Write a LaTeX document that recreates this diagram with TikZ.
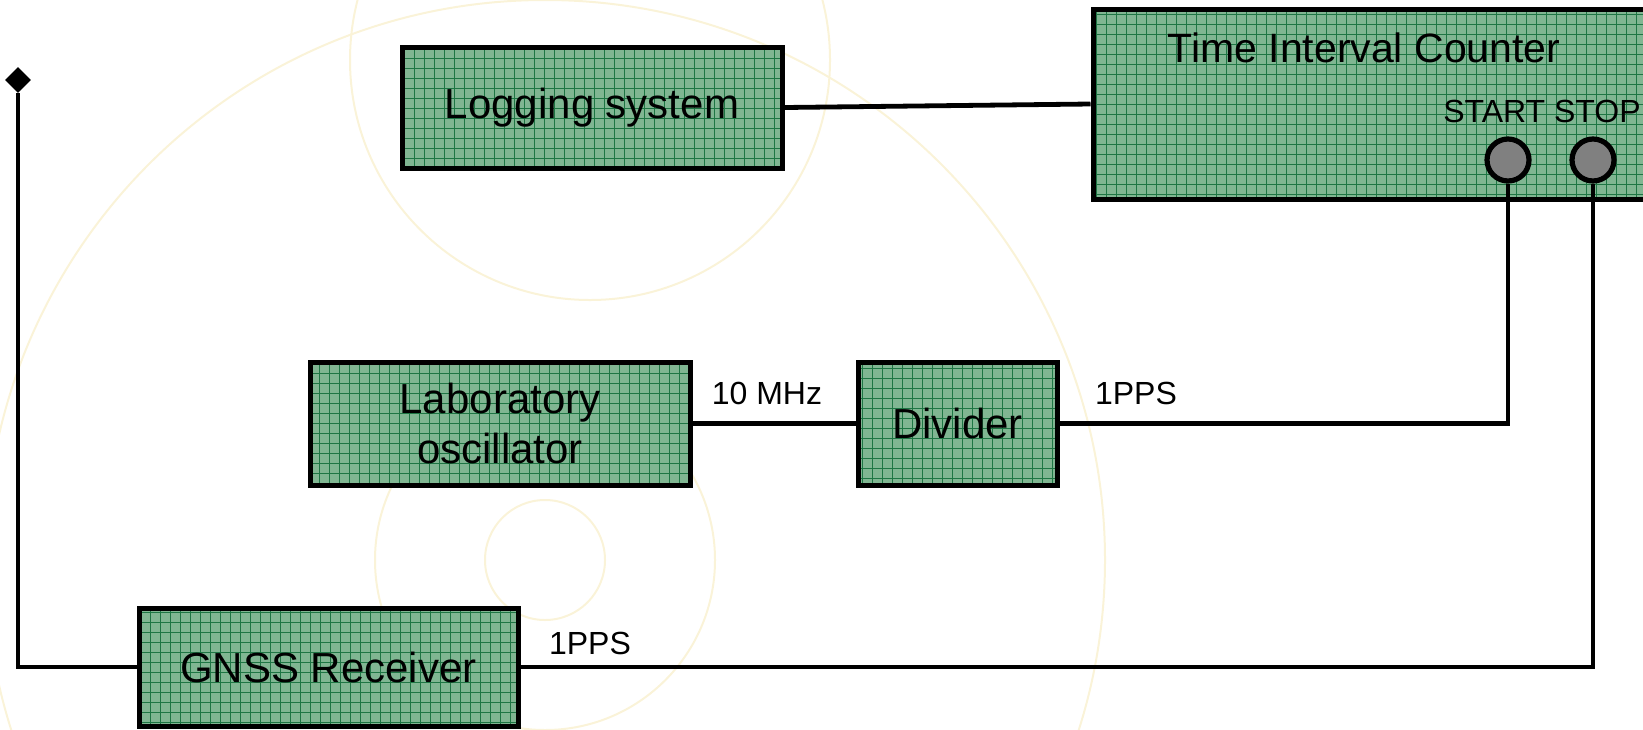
\documentclass[tikz,border=0pt]{standalone}
\usepackage{fontspec}
\setmainfont{Liberation Sans}
\usetikzlibrary{shapes.geometric}

\definecolor{boxgreen}{RGB}{128,182,146}
\definecolor{gridgreen}{RGB}{30,118,68}
\definecolor{chartline}{RGB}{250,243,216}

\begin{document}
\begin{tikzpicture}[
  x=0.5pt, y=-0.5pt,
  font=\fontsize{21}{25}\selectfont,
  every node/.style={align=center},
  unit/.style={draw, line width=2.5pt, fill=boxgreen, inner sep=0pt,
    path picture={\draw[gridgreen, line width=0.45pt]
      (path picture bounding box.south west) grid[step=5pt]
      (path picture bounding box.north east);}},
  port/.style={circle, draw, line width=2.6pt, fill=gray, minimum size=21pt, inner sep=0pt},
  tip/.style={diamond, fill=black, minimum size=13pt, inner sep=0pt},
  signal/.style={font=\fontsize{16}{19}\selectfont},
  wire/.style={line width=2.4pt}]

  % Fix the page to the size of the picture
  \useasboundingbox (0,0) rectangle (1643,729);
  \clip (0,0) rectangle (1643,729);

  % Faint chart in the background
  \begin{scope}[chartline, line width=1pt]
    \draw (545,560) circle[radius=60];
    \draw (545,560) circle[radius=170];
    \draw (545,560) circle[radius=560];
    \draw (590,60) circle[radius=240];
  \end{scope}

  % Position the units
  \node[unit, minimum width=190pt, minimum height=60.5pt] (logging) at (592,107.5) {Logging system};
  \node[unit, minimum width=293.5pt, minimum height=95pt] (tic) at (1386.5,104) {};
  \node[font=\fontsize{20.5}{24}\selectfont] (ticlabel) at (1364,48) {Time Interval Counter};
  \node[signal] (portlabel) at (1542,111) {START STOP};
  \node[port] (start) at (1508,160) {};
  \node[port] (stop) at (1593,160) {};

  \node[unit, minimum width=190pt, minimum height=61.5pt] (lab) at (500,423.5) {Laboratory\\oscillator};
  \node[unit, minimum width=99.5pt, minimum height=61.5pt] (divider) at (957.5,423.5) {Divider};
  \node[unit, minimum width=189.5pt, minimum height=59pt] (gnss) at (328.5,667) {GNSS Receiver};
  \node[tip] (ant) at (18,80) {};

  % Signal labels
  \node[signal] (tenmhz) at (767,393) {10 MHz};
  \node[signal] (ppsdiv) at (1136,393) {1PPS};
  \node[signal] (ppsgnss) at (590,643) {1PPS};

  % Draw the wires between the units
  \draw[wire] (logging.east) -- (tic.west);
  \draw[wire] (lab) -- (divider);
  \draw[wire] (divider.east) -| (start.south);
  \draw[wire] (gnss.east) -| (stop.south);
  \draw[wire] (gnss.west) -| (ant.south);
\end{tikzpicture}
\end{document}
